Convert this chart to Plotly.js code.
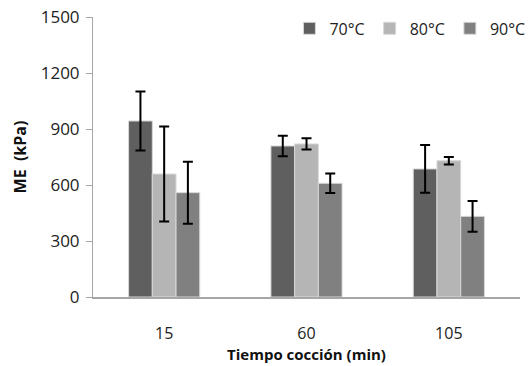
<!DOCTYPE html>
<html><head><meta charset="utf-8">
<script src="https://cdn.plot.ly/plotly-3.0.1.min.js"></script>
<style>body{margin:0;background:#fff}#c{width:530px;height:366px}</style>
</head><body><div id="c"></div>
<script>
var categories = ["15", "60", "105"];
var seriesNames = ["70°C", "80°C", "90°C"];
var values70 = [943, 809, 686];
var values80 = [659, 820, 730];
var values90 = [559, 609, 432];
var err70 = [158, 55, 128];
var err80 = [255, 30, 20];
var err90 = [166, 52, 82];
var yTicks = [0, 300, 600, 900, 1200, 1500];

var colors = ["#5f5f5f", "#b5b5b5", "#808080"];
var vals = [values70, values80, values90];
var errs = [err70, err80, err90];
var traces = vals.map(function(v, i){
  return {
    type: "bar", x: categories, y: v, name: seriesNames[i],
    marker: {color: colors[i], line: {color: "#d8d8d8", width: 1}},
    error_y: {type: "data", array: errs[i], visible: true, color: "#000", thickness: 2, width: 5}
  };
});
var font = "Open Sans, DejaVu Sans, sans-serif";
var layout = {
  width: 530, height: 366,
  margin: {l: 93, r: 10, t: 17, b: 69, autoexpand: false},
  paper_bgcolor: "#fff", plot_bgcolor: "#fff",
  barmode: "group", bargap: 0.5, bargroupgap: 0,
  showlegend: true,
  legend: {orientation: "h", x: 0.46, y: 1.02, xanchor: "left", yanchor: "top",
           font: {family: font, size: 16, color: "#222"}, itemwidth: 30, traceorder: "normal",
           bgcolor: "rgba(0,0,0,0)"},
  xaxis: {
    type: "category", showline: true, linecolor: "#a6a6a6", linewidth: 2,
    ticks: "", tickfont: {family: font, size: 16, color: "#222"}, ticklabelstandoff: 21,
    title: {text: "<b>Tiempo cocción (min)</b>", font: {family: font, size: 15, color: "#111"}, standoff: 0},
    showgrid: false, zeroline: false
  },
  yaxis: {
    range: [0, 1500], tickvals: yTicks, ticktext: yTicks.map(String),
    showline: true, linecolor: "#a6a6a6", linewidth: 1,
    ticks: "outside", ticklen: 6, tickcolor: "#a6a6a6", ticklabelstandoff: 3,
    tickfont: {family: font, size: 17, color: "#222"},
    title: {text: "<b>ME  (kPa)</b>", font: {family: font, size: 16, color: "#111"}, standoff: 10},
    showgrid: false, zeroline: false
  }
};
Plotly.newPlot("c", traces, layout, {displayModeBar: false, staticPlot: true});
</script></body></html>
